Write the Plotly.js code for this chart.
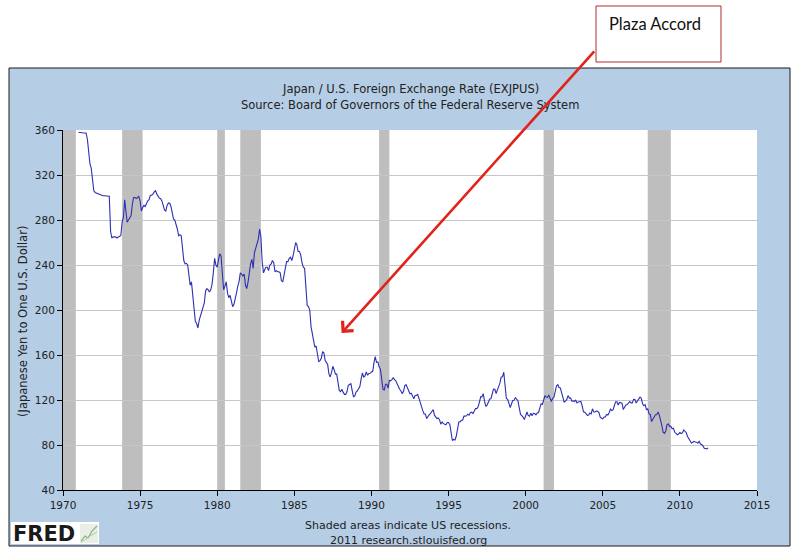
<!DOCTYPE html>
<html>
<head>
<meta charset="utf-8">
<script src="https://cdn.plot.ly/plotly-3.0.1.min.js"></script>
<style>html,body{margin:0;padding:0;background:#fff;}#chart{width:801px;height:560px;}</style>
</head>
<body>
<div id="chart"></div>
<script>
// Monthly yen per US dollar, starting January 1971
const firstYear = 1971;
const rates1970s = [
  358.0,357.6,357.5,357.5,357.4,357.4,357.4,352.0,338.0,330.0,326.0,316.0,
  306.0,304.5,304.0,303.5,303.0,302.0,301.5,301.5,301.5,301.3,301.3,301.2,
  301.2,270.0,264.0,265.0,265.0,265.0,264.0,265.0,265.5,266.0,278.0,282.0,
  298.0,287.0,278.0,280.0,282.0,284.0,294.0,300.0,300.0,299.0,300.0,301.0,
  297.0,288.0,291.0,293.0,292.0,295.0,297.0,298.0,302.0,302.0,303.0,305.0,
  306.0,303.0,301.0,299.5,299.0,297.0,293.0,289.0,288.0,293.0,295.0,295.0,
  292.0,286.0,281.0,280.0,277.0,272.0,266.0,267.0,266.0,255.0,244.0,241.0,
  241.5,240.0,228.0,222.0,225.0,213.0,201.0,190.0,188.0,184.0,191.0,195.0,
  198.0,201.0,206.0,217.0,219.0,218.0,216.0,218.0,223.0,233.0,246.0,240.0
];
const rates1980s = [
  238.0,245.0,250.0,248.0,229.0,218.0,221.0,225.0,215.0,211.0,213.0,208.0,
  203.0,205.0,209.0,215.0,221.0,225.0,233.0,232.0,230.0,232.0,222.0,219.0,
  225.0,235.0,241.0,245.0,237.0,251.0,255.0,259.0,263.0,272.0,265.0,243.0,
  233.0,236.0,238.0,238.0,235.0,240.0,241.0,244.0,242.0,234.0,235.0,234.0,
  234.0,233.0,226.0,225.0,231.0,234.0,243.0,243.0,246.0,247.0,244.0,248.0,
  254.0,260.0,258.0,252.0,252.0,249.0,242.0,238.0,237.0,215.0,204.0,203.0,
  200.0,185.0,179.0,175.0,167.0,168.0,159.0,154.0,155.0,157.0,163.0,162.0,
  155.0,153.5,151.5,143.0,140.5,144.5,150.0,147.0,143.0,143.0,135.0,128.5,
  127.5,129.5,127.0,125.0,125.0,127.5,133.0,134.0,134.5,128.5,123.0,123.5,
  127.0,128.0,130.5,132.0,138.5,144.0,140.5,141.5,145.0,142.0,143.5,143.7
];
const rates1990s = [
  145.0,145.5,153.0,158.5,153.5,153.8,149.5,147.5,138.5,129.5,129.0,134.0,
  134.0,130.5,137.5,137.0,138.0,140.0,138.0,137.0,134.5,131.0,129.5,128.0,
  125.5,128.0,133.0,133.5,130.5,127.0,125.5,126.0,122.5,121.0,124.0,124.0,
  125.0,121.0,117.0,112.5,110.5,107.5,107.5,103.5,105.5,107.0,108.0,110.0,
  111.5,106.5,105.0,103.5,104.0,102.5,98.5,100.5,99.0,98.5,98.0,100.0,
  100.0,98.0,91.0,84.0,85.0,84.5,87.5,94.5,100.5,100.5,102.0,102.0,
  105.8,105.7,105.9,107.4,106.5,108.8,109.2,107.9,109.9,112.4,112.3,113.9,
  118.2,123.0,122.7,125.6,119.2,114.3,115.4,117.9,120.9,121.1,125.4,129.7,
  129.5,125.8,128.8,131.9,135.0,140.4,140.7,144.7,134.5,121.3,120.6,117.4,
  113.3,116.7,119.6,119.8,122.0,120.7,119.6,113.3,107.4,106.0,104.8,102.6
];
const rates2000s = [
  105.2,109.3,106.3,105.6,108.3,106.1,108.2,108.0,106.8,108.4,108.9,112.2,
  116.7,116.1,121.2,123.8,122.6,122.3,124.5,121.5,118.7,121.4,122.4,127.6,
  132.7,133.6,131.1,130.8,126.4,123.3,118.1,119.0,120.5,123.9,121.6,121.9,
  118.8,119.3,118.7,119.9,117.4,118.3,118.7,118.7,114.8,109.5,109.2,107.7,
  106.3,106.7,108.5,107.7,112.2,109.4,109.4,110.2,110.0,108.8,104.7,103.8,
  103.3,104.9,104.9,107.2,106.6,108.7,111.9,110.6,111.2,114.9,118.5,118.5,
  115.5,117.9,117.3,117.1,111.5,114.5,115.6,115.9,117.0,118.6,117.4,117.4,
  120.6,120.5,117.3,118.8,120.8,122.6,121.6,116.7,115.0,115.9,111.2,112.3,
  107.6,107.2,100.8,102.7,104.4,106.9,106.9,109.4,106.6,100.1,96.9,91.3,
  90.4,92.5,97.9,98.8,96.6,96.6,94.5,95.0,91.3,90.3,89.1,89.8
];
const rates2010s = [
  91.1,90.2,90.7,93.4,91.9,90.9,87.6,85.4,84.4,81.8,82.5,83.3,
  82.6,82.5,81.6,83.2,81.1,80.5,79.4,77.1,76.8,76.6,77.5
];
// US recessions (NBER)
const recessionStarts = ['1969-12-01','1973-11-01','1980-01-01','1981-07-01','1990-07-01','2001-03-01','2007-12-01'];
const recessionEnds   = ['1970-11-01','1975-03-01','1980-07-01','1982-11-01','1991-03-01','2001-11-01','2009-06-01'];
// Axis ticks
const xTickYears = ['1970','1975','1980','1985','1990','1995','2000','2005','2010','2015'];
const yTickValues = [40,80,120,160,200,240,280,320,360];

const titleLine1 = 'Japan / U.S. Foreign Exchange Rate (EXJPUS)';
const titleLine2 = 'Source: Board of Governors of the Federal Reserve System';
const yTitle = '(Japanese Yen to One U.S. Dollar)';
const footer1 = 'Shaded areas indicate US recessions.';
const footer2 = '2011 research.stlouisfed.org';
const calloutText = 'Plaza Accord';
const calloutDate = '1988-01-25';
const calloutValue = 179.6;

const rates = [].concat(rates1970s, rates1980s, rates1990s, rates2000s, rates2010s);
const dates = rates.map((v, i) => {
  const y = firstYear + Math.floor(i / 12);
  const m = (i % 12) + 1;
  return y + '-' + String(m).padStart(2, '0') + '-01';
});

// pixel helpers for decorations (plot area: x 63..757, y 130..490)
const L = 63, T = 130, W = 694, H = 360;
const px = p => (p - L) / W;
const py = p => (T + H - p) / H;

const shapes = [
  {type:'rect', xref:'paper', yref:'paper', layer:'below',
   x0:px(9), x1:px(790), y0:py(546), y1:py(68),
   fillcolor:'#B5CDE5', line:{color:'#1b1b1b', width:1}},
  {type:'rect', xref:'paper', yref:'paper', layer:'below',
   x0:0, x1:1, y0:0, y1:1, fillcolor:'#ffffff', line:{width:0}},
  // FRED logo box and icon
  {type:'rect', xref:'paper', yref:'paper', layer:'above',
   x0:px(11), x1:px(99), y0:py(544), y1:py(522), fillcolor:'#ffffff', line:{width:0}},
  {type:'rect', xref:'paper', yref:'paper', layer:'above',
   x0:px(80), x1:px(98), y0:py(543), y1:py(524), fillcolor:'#E9EFE6', line:{width:0}},
  {type:'path', xref:'paper', yref:'paper', layer:'above',
   path:`M ${px(81)},${py(541)} L ${px(85)},${py(536)} L ${px(88)},${py(538)} L ${px(92)},${py(531)} L ${px(97)},${py(526)}`,
   line:{color:'#86B07A', width:1.2}},
  {type:'path', xref:'paper', yref:'paper', layer:'above',
   path:`M ${px(81)},${py(542)} L ${px(86)},${py(539)} L ${px(90)},${py(536)} L ${px(97)},${py(532)}`,
   line:{color:'#A9C79F', width:1}},
  // callout box
  {type:'rect', xref:'paper', yref:'paper', layer:'above',
   x0:px(596), x1:px(721), y0:py(62), y1:py(6), fillcolor:'#ffffff', line:{color:'#B22A2A', width:1}}
];
recessionStarts.forEach((s, i) => {
  shapes.push({type:'rect', xref:'x', yref:'paper', layer:'between',
    x0:s, x1:recessionEnds[i], y0:0, y1:1, fillcolor:'#BEBEBE', line:{width:0}});
});

const txtFont = {family:'DejaVu Sans', size:11, color:'#222'};
const titleFont = {family:'DejaVu Sans', size:11.5, color:'#222'};
const annotations = [
  {xref:'paper', yref:'paper', x:0.5, y:py(89), text:titleLine1, showarrow:false, font:titleFont, xanchor:'center', yanchor:'middle'},
  {xref:'paper', yref:'paper', x:0.5, y:py(105), text:titleLine2, showarrow:false, font:titleFont, xanchor:'center', yanchor:'middle'},
  {xref:'paper', yref:'paper', x:px(23), y:py(322), text:yTitle, showarrow:false, textangle:-90, font:titleFont, xanchor:'center', yanchor:'middle'},
  {xref:'paper', yref:'paper', x:px(408), y:py(525), text:footer1, showarrow:false, font:txtFont, xanchor:'center', yanchor:'middle'},
  {xref:'paper', yref:'paper', x:px(408), y:py(540), text:footer2, showarrow:false, font:txtFont, xanchor:'center', yanchor:'middle'},
  {xref:'paper', yref:'paper', x:px(11), y:py(534), text:'<b>FRED</b>', showarrow:false,
   font:{family:'DejaVu Sans', size:21, color:'#1a1a1a'}, xanchor:'left', yanchor:'middle'},
  {xref:'paper', yref:'paper', x:px(607), y:py(24), text:calloutText, showarrow:false,
   font:{family:'Lato', size:16.5, color:'#111'}, xanchor:'left', yanchor:'middle'},
  {xref:'x', yref:'y', x:calloutDate, y:calloutValue, text:'', showarrow:true,
   ax:254, ay:-283, arrowhead:4, arrowsize:1.1, arrowwidth:2.6, arrowcolor:'#E2231A', standoff:0}
];

const trace = {
  x: dates, y: rates, type:'scatter', mode:'lines',
  line:{color:'#2C2FB4', width:1.1}, hoverinfo:'skip'
};

const layout = {
  width:801, height:560,
  margin:{l:L, r:801-L-W, t:T, b:560-T-H, pad:0},
  paper_bgcolor:'#ffffff', plot_bgcolor:'#ffffff',
  showlegend:false,
  font:{family:'DejaVu Sans', size:10, color:'#222'},
  xaxis:{
    type:'date', range:['1970-01-01','2015-01-01'],
    tickvals: xTickYears.map(y => y + '-01-01'), ticktext: xTickYears,
    ticks:'outside', ticklen:5, tickcolor:'#000', tickwidth:1,
    showgrid:false, zeroline:false, showline:true, linecolor:'#000', linewidth:1,
    tickfont:{family:'DejaVu Sans', size:10.5, color:'#222'}
  },
  yaxis:{
    range:[40,360], tickvals:yTickValues,
    ticks:'outside', ticklen:5, tickcolor:'#000', tickwidth:1,
    showgrid:true, gridcolor:'#C6C6C6', gridwidth:1,
    zeroline:false, showline:true, linecolor:'#000', linewidth:1,
    tickfont:{family:'DejaVu Sans', size:10.5, color:'#222'}
  },
  shapes: shapes,
  annotations: annotations
};

Plotly.newPlot('chart', [trace], layout, {displayModeBar:false, staticPlot:true});
</script>
</body>
</html>
